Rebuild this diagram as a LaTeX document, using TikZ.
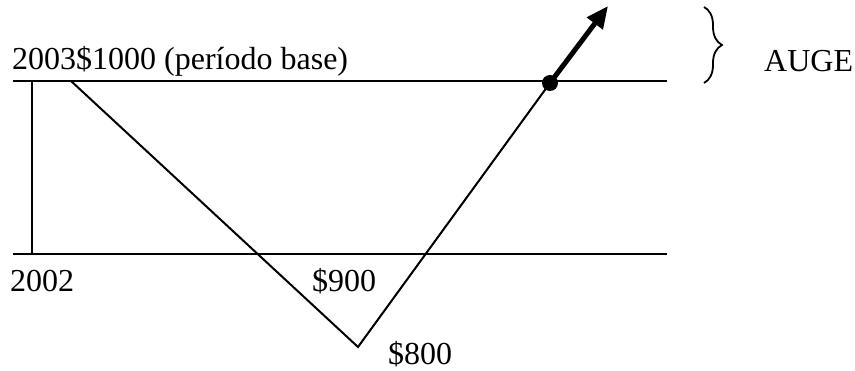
\documentclass[tikz,border=0pt]{standalone}
\usepackage{fontspec}
\setmainfont{Liberation Serif}
\usetikzlibrary{arrows.meta,decorations.pathreplacing}
\begin{document}
\begin{tikzpicture}[x=1pt,y=-1pt,
  lbl/.style={anchor=base west,inner sep=0pt,font=\fontsize{32}{38}\selectfont},
  thinline/.style={line width=2pt},
  bold arrow/.style={line width=5pt,-{Triangle[length=22pt,width=19pt]}},
  bracestyle/.style={line width=1.8pt,decorate,decoration={brace,amplitude=18pt}}]
\useasboundingbox (0,0) rectangle (855,371);
% coordinates
\coordinate (tl) at (13,81);
\coordinate (tr) at (667,81);
\coordinate (bl) at (13,254);
\coordinate (br) at (667,254);
\coordinate (vt) at (32,81);
\coordinate (vb) at (32,254);
\coordinate (start) at (71,81);
\coordinate (low) at (358,347);
\node[circle,fill=black,inner sep=0pt,minimum size=16pt] (dot) at (550,83) {};
\coordinate (tip) at (608,6);
\coordinate (bt) at (704,7);
\coordinate (bb) at (704,83);
% lines
\draw[thinline] (tl) -- (tr);
\draw[thinline] (bl) -- (br);
\draw[thinline] (vt) -- (vb);
\draw[thinline] (start) -- (low) -- (dot.center);
\draw[bold arrow] (dot.center) -- (tip);
\draw[bracestyle] (bt) -- (bb);
% labels
\node[lbl] (t2003) at (12,70) {2003\$1000 (período base)};
\node[lbl] (t2002) at (10,292) {2002};
\node[lbl] (t900) at (312,292) {\$900};
\node[lbl] (t800) at (388,365) {\$800};
\node[lbl] (auge) at (764,72) {AUGE};
\end{tikzpicture}
\end{document}
